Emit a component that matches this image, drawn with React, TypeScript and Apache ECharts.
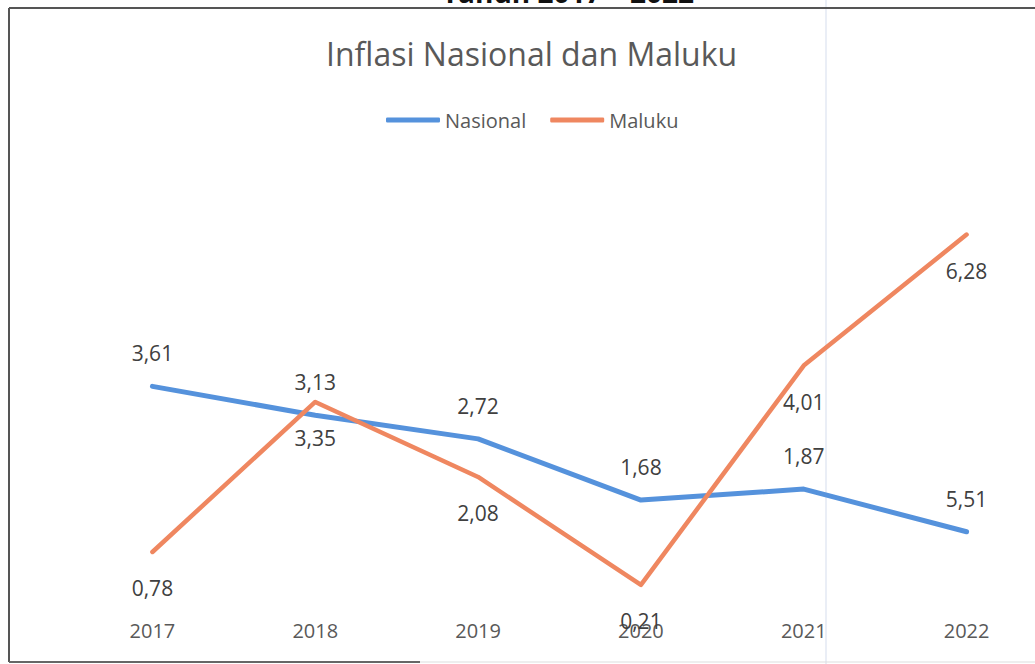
import React, { useEffect, useRef } from "react";
import * as echarts from "echarts";

const years = ["2017", "2018", "2019", "2020", "2021", "2022"];
// plotted positions
const nasionalValues = [3.65, 3.15, 2.74, 1.68, 1.87, 1.13];
const malukuValues = [0.78, 3.38, 2.08, 0.21, 4.01, 6.28];
// data labels as printed in the picture
const nasionalLabels = ["3,61", "3,13", "2,72", "1,68", "1,87", "5,51"];
const malukuLabels = ["0,78", "3,35", "2,08", "0,21", "4,01", "6,28"];

const titleText = "Inflasi Nasional dan Maluku";
const headerText = "Tahun 2017 – 2022";

const FONT = '"Open Sans", "Noto Sans", sans-serif';
const BLUE = "#5592DC";
const ORANGE = "#EF8760";

export default function App() {
  const ref = useRef<HTMLDivElement>(null);
  useEffect(() => {
    if (!ref.current) return;
    const chart = echarts.init(ref.current, undefined, { renderer: "svg" });
    chart.setOption({
      animation: false,
      backgroundColor: "#ffffff",
      title: {
        text: titleText,
        left: 321,
        top: 32,
        textStyle: { fontFamily: FONT, fontSize: 32, fontWeight: "normal", color: "#595959" },
      },
      legend: {
        left: 381,
        top: 105,
        icon: "roundRect",
        itemWidth: 54,
        itemHeight: 5,
        itemGap: 24,
        textStyle: { fontFamily: FONT, fontSize: 20, color: "#595959" },
        data: ["Nasional", "Maluku"],
      },
      grid: { left: 71, width: 977, top: 193, height: 404, containLabel: false, outerBoundsMode: "none" },
      xAxis: {
        type: "category",
        data: years,
        boundaryGap: true,
        axisLine: { show: false },
        axisTick: { show: false },
        axisLabel: { margin: 23, fontFamily: FONT, fontSize: 20, color: "#595959" },
      },
      yAxis: {
        type: "value",
        min: 0,
        max: 7,
        show: false,
        splitLine: { show: false },
      },
      graphic: [
        {
          type: "text",
          x: 568,
          y: 6,
          style: {
            text: headerText,
            fontFamily: FONT,
            fontSize: 28,
            fontWeight: "bold",
            fill: "#111",
            align: "center",
            verticalAlign: "bottom",
          },
        },
        { type: "line", shape: { x1: 826, y1: 0, x2: 826, y2: 664 }, style: { stroke: "#e3e8f3", lineWidth: 1.5 } },
        { type: "line", shape: { x1: 9, y1: 8, x2: 1060, y2: 8 }, style: { stroke: "#555", lineWidth: 2 } },
        { type: "line", shape: { x1: 9, y1: 8, x2: 9, y2: 662 }, style: { stroke: "#555", lineWidth: 2 } },
        { type: "line", shape: { x1: 9, y1: 662, x2: 420, y2: 662 }, style: { stroke: "#666", lineWidth: 2 } },
        { type: "line", shape: { x1: 420, y1: 662, x2: 1060, y2: 662 }, style: { stroke: "#ddd", lineWidth: 1 } },
      ],
      series: [
        {
          name: "Nasional",
          type: "line",
          data: nasionalValues,
          symbol: "circle",
          symbolSize: 1,
          showSymbol: true,
          color: BLUE,
          itemStyle: { color: BLUE },
          lineStyle: { width: 5, color: BLUE, cap: "round", join: "round" },
          label: {
            show: true,
            position: "top",
            distance: 22,
            fontFamily: FONT,
            fontSize: 21,
            color: "#404040",
            formatter: (p: any) => nasionalLabels[p.dataIndex],
          },
        },
        {
          name: "Maluku",
          type: "line",
          data: malukuValues,
          symbol: "circle",
          symbolSize: 1,
          showSymbol: true,
          color: ORANGE,
          itemStyle: { color: ORANGE },
          lineStyle: { width: 4.5, color: ORANGE, cap: "round", join: "round" },
          label: {
            show: true,
            position: "bottom",
            distance: 25,
            fontFamily: FONT,
            fontSize: 21,
            color: "#404040",
            formatter: (p: any) => malukuLabels[p.dataIndex],
          },
        },
      ],
    });
    return () => chart.dispose();
  }, []);
  return (
    <div style={{ position: "absolute", left: 0, top: 0, width: 1035, height: 664, overflow: "hidden" }}>
      <div ref={ref} style={{ position: "absolute", left: 0, top: 0, width: 1060, height: 664 }} />
    </div>
  );
}
